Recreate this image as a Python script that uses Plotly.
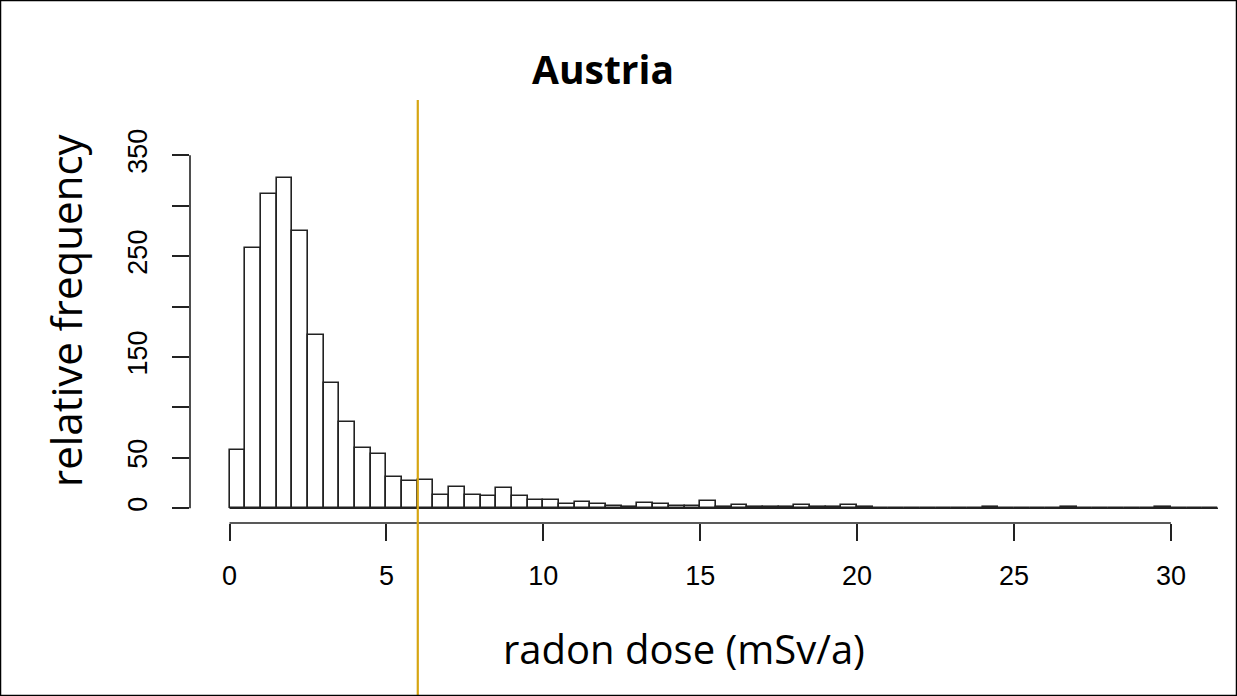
import numpy as np
import plotly.graph_objects as go

# ---- data ----
title_text = "Austria"
x_label = "radon dose (mSv/a)"
y_label = "relative frequency"
bin_start = 0.0
bin_width = 0.5
counts = [58, 258, 312, 327, 275, 172, 124, 86, 60, 54,
          31, 27, 28, 13, 21, 13, 12, 20, 12, 8,
          8, 4, 6, 4, 2, 1, 5, 4, 2, 2,
          7, 1, 3, 1, 1, 1, 3, 1, 1, 3,
          1, 0, 0, 0, 0, 0, 0, 0, 1, 0,
          0, 0, 0, 1, 0, 0, 0, 0, 0, 1,
          0, 0, 0]
threshold = 6.0
x_ticks = [0, 5, 10, 15, 20, 25, 30]
y_ticks = [0, 50, 100, 150, 200, 250, 300, 350]
y_tick_text = ["0", "50", "", "150", "", "250", "", "350"]

edges = bin_start + bin_width * np.arange(len(counts) + 1)
centers = (edges[:-1] + edges[1:]) / 2

# ---- layout geometry (pixels) ----
W, H = 1237, 696
L, R, T, B = 190, 10, 88, 173
pw, ph = W - L - R, H - T - B


def px(xp):
    return (xp - L) / pw


def py(yp):
    return (H - B - yp) / ph


x_per_unit = 31.38
x_zero_px = 229.5
x_range = [(L - x_zero_px) / x_per_unit, (W - R - x_zero_px) / x_per_unit]
y_per_unit = 1.0086
y_zero_px = 508.3
y_range = [-(H - B - y_zero_px) / y_per_unit, (y_zero_px - T) / y_per_unit]

fig = go.Figure()
fig.add_trace(go.Bar(
    x=centers, y=counts, width=bin_width,
    marker=dict(color="white", line=dict(color="#222222", width=1.6)),
    hoverinfo="x+y", showlegend=False,
))

shapes = [
    # histogram baseline (zero-height bins)
    dict(type="line", xref="x", yref="y", x0=edges[0], x1=edges[-1], y0=0, y1=0,
         line=dict(color="#222222", width=1.6), layer="above"),
    # R-style axis lines spanning first..last tick
    dict(type="line", xref="x", yref="paper", x0=x_ticks[0], x1=x_ticks[-1], y0=0, y1=0,
         line=dict(color="#222222", width=1.6)),
    dict(type="line", xref="paper", yref="y", x0=0, x1=0, y0=y_ticks[0], y1=y_ticks[-1],
         line=dict(color="#222222", width=1.6)),
    # threshold line
    dict(type="line", xref="x", yref="paper", x0=threshold, x1=threshold,
         y0=py(100), y1=py(H), line=dict(color="#D6A512", width=2.2), layer="above"),
    # outer border
    dict(type="rect", xref="paper", yref="paper", x0=px(0.5), x1=px(W - 0.5),
         y0=py(H - 0.5), y1=py(0.5), line=dict(color="black", width=1.5)),
]

annotations = [
    dict(text="<b>%s</b>" % title_text, xref="paper", yref="paper", x=px(603), y=py(68),
         showarrow=False, font=dict(family="Open Sans", size=39, color="black"),
         xanchor="center", yanchor="middle"),
    dict(text=x_label, xref="paper", yref="paper", x=px(684), y=py(648),
         showarrow=False, font=dict(family="Open Sans", size=40, color="black"),
         xanchor="center", yanchor="middle"),
    dict(text=y_label, xref="paper", yref="paper", x=px(65), y=py(310),
         showarrow=False, textangle=-90, font=dict(family="Open Sans", size=42, color="black"),
         xanchor="center", yanchor="middle"),
]

fig.update_layout(
    width=W, height=H,
    margin=dict(l=L, r=R, t=T, b=B, pad=0),
    paper_bgcolor="white", plot_bgcolor="white",
    shapes=shapes, annotations=annotations,
    bargap=0,
    font=dict(family="Liberation Sans, Arial", color="black"),
    xaxis=dict(range=x_range, tickvals=x_ticks, ticks="outside", ticklen=17,
               tickwidth=1.6, tickcolor="#222222", showline=False, showgrid=False,
               zeroline=False, tickfont=dict(size=27, family="Liberation Sans"),
               ticklabelstandoff=12),
    yaxis=dict(range=y_range, tickvals=y_ticks, ticktext=y_tick_text, ticks="outside",
               ticklen=17, tickwidth=1.6, tickcolor="#222222", showline=False,
               showgrid=False, zeroline=False, tickangle=-90,
               tickfont=dict(size=27, family="Liberation Sans"),
               ticklabelstandoff=14),
)

fig.write_html("out.html", config={"displayModeBar": False})

# remove the default 8px page margin so the figure fills the window exactly
with open("out.html", "r", encoding="utf-8") as f:
    html = f.read()
html = html.replace("<head>", "<head><style>html,body{margin:0;padding:0;overflow:hidden;}</style>", 1)
with open("out.html", "w", encoding="utf-8") as f:
    f.write(html)
